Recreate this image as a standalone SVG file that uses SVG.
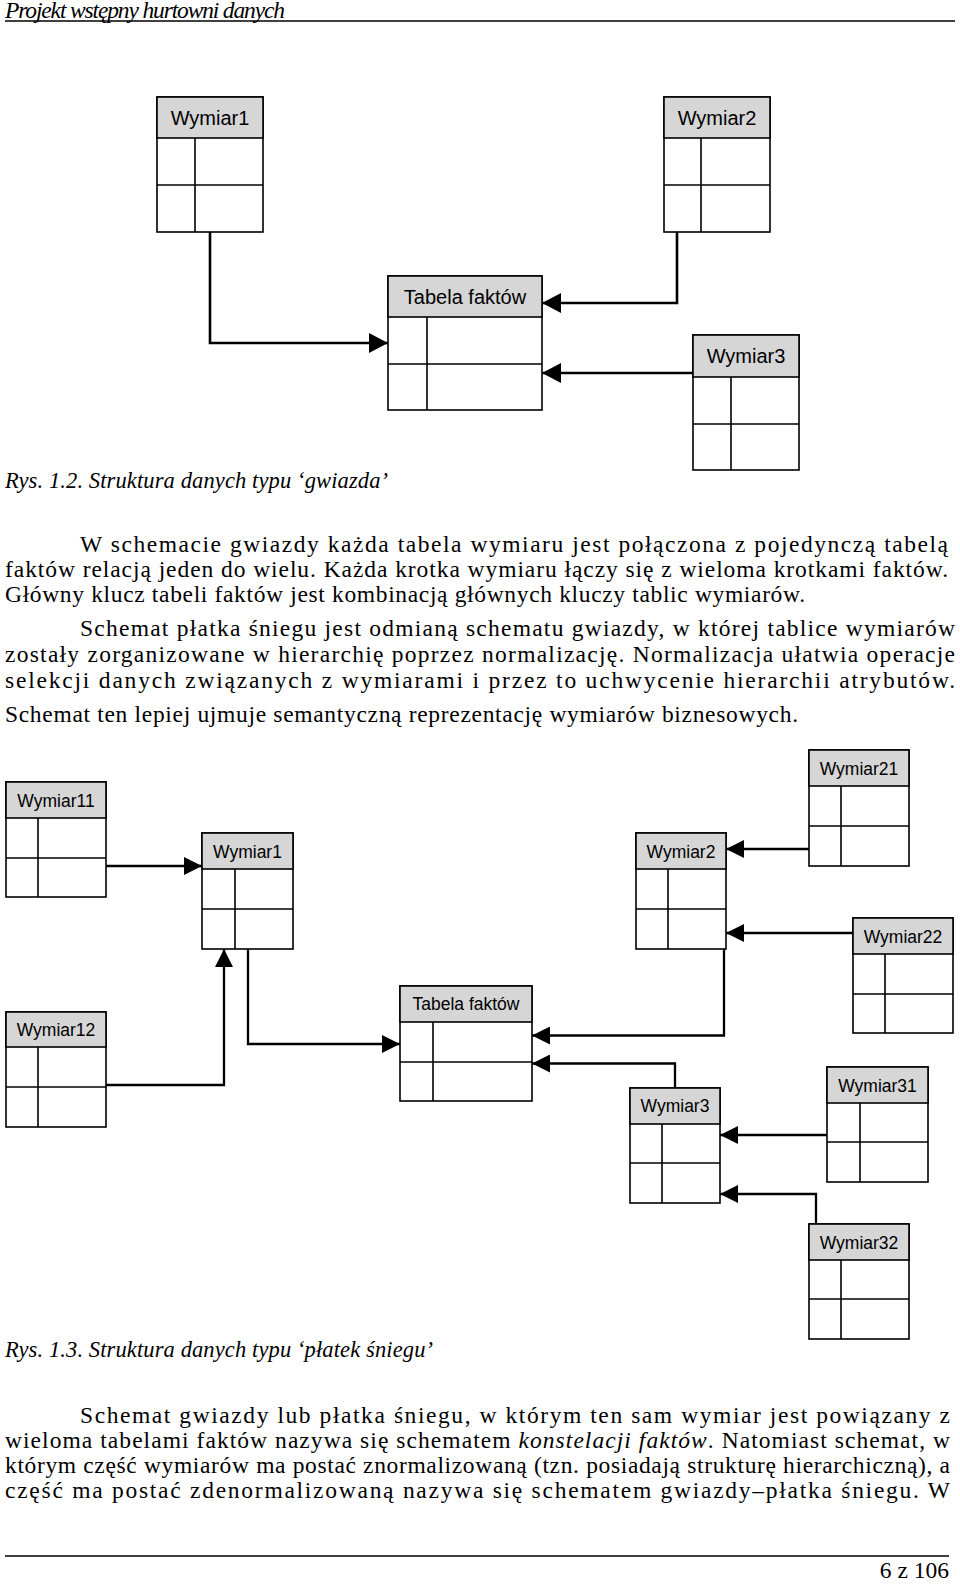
<svg xmlns="http://www.w3.org/2000/svg" width="960" height="1585" viewBox="0 0 960 1585">
<style>
.box{fill:#fff;stroke:#000;stroke-width:1.6}
.hdr{fill:#d6d6d6;stroke:#000;stroke-width:1.6}
.grid{stroke:#000;stroke-width:1.6}
.t1{font-family:"Liberation Sans",Arial,sans-serif;font-size:20px;text-anchor:middle;fill:#000}
.t2{font-family:"Liberation Sans",Arial,sans-serif;font-size:17.5px;text-anchor:middle;fill:#000}
.c1{fill:none;stroke:#000;stroke-width:2.6}
.c2{fill:none;stroke:#000;stroke-width:2.3}
.body{font-family:"Liberation Serif","Times New Roman",serif;font-size:23.5px;fill:#000}
.cap{font-family:"Liberation Serif","Times New Roman",serif;font-size:22.5px;font-style:italic;fill:#000}
.it{font-style:italic}
</style>
<defs>
<marker id="a1" markerUnits="userSpaceOnUse" markerWidth="19" markerHeight="20" refX="19" refY="10" orient="auto"><path d="M0,0 L19,10 L0,20 z" fill="#000"/></marker>
<marker id="a2" markerUnits="userSpaceOnUse" markerWidth="18" markerHeight="18" refX="18" refY="9" orient="auto"><path d="M0,0 L18,9 L0,18 z" fill="#000"/></marker>
</defs>
<rect x="0" y="0" width="960" height="1585" fill="#fff"/>

<!-- page header -->
<text class="body it" x="5" y="18" font-size="16.5" textLength="280" lengthAdjust="spacing">Projekt wstępny hurtowni danych</text>
<line x1="5" y1="21" x2="955" y2="21" stroke="#000" stroke-width="1.3"/>

<!-- Figure 1.2 nodes -->
<g id="f1-wymiar1">
<rect class="box" x="157" y="97" width="106" height="135"/>
<rect class="hdr" x="157" y="97" width="106" height="41"/>
<line class="grid" x1="157" y1="185" x2="263" y2="185"/>
<line class="grid" x1="195" y1="138" x2="195" y2="232"/>
<text class="t1" x="210" y="124.5">Wymiar1</text>
</g>
<g id="f1-wymiar2">
<rect class="box" x="664" y="97" width="106" height="135"/>
<rect class="hdr" x="664" y="97" width="106" height="41"/>
<line class="grid" x1="664" y1="185" x2="770" y2="185"/>
<line class="grid" x1="701" y1="138" x2="701" y2="232"/>
<text class="t1" x="717" y="124.5">Wymiar2</text>
</g>
<g id="f1-tabela">
<rect class="box" x="388" y="276" width="154" height="134"/>
<rect class="hdr" x="388" y="276" width="154" height="41"/>
<line class="grid" x1="388" y1="364" x2="542" y2="364"/>
<line class="grid" x1="427" y1="317" x2="427" y2="410"/>
<text class="t1" x="465" y="303.5">Tabela faktów</text>
</g>
<g id="f1-wymiar3">
<rect class="box" x="693" y="335" width="106" height="135"/>
<rect class="hdr" x="693" y="335" width="106" height="42"/>
<line class="grid" x1="693" y1="424" x2="799" y2="424"/>
<line class="grid" x1="731" y1="377" x2="731" y2="470"/>
<text class="t1" x="746" y="363">Wymiar3</text>
</g>

<!-- Figure 1.2 connectors -->
<g id="f1-connectors">
<path class="c1" d="M210,232 V343 H388" marker-end="url(#a1)"/>
<path class="c1" d="M677,232 V303 H542" marker-end="url(#a1)"/>
<path class="c1" d="M693,373 H542" marker-end="url(#a1)"/>
</g>

<text class="cap" x="5" y="488" textLength="383" lengthAdjust="spacing">Rys. 1.2. Struktura danych typu ‘gwiazda’</text>

<text class="body" x="80" y="552" textLength="868" lengthAdjust="spacing">W schemacie gwiazdy każda tabela wymiaru jest połączona z pojedynczą tabelą</text>
<text class="body" x="5" y="577" textLength="943" lengthAdjust="spacing">faktów relacją jeden do wielu. Każda krotka wymiaru łączy się z wieloma krotkami faktów.</text>
<text class="body" x="5" y="602" textLength="800" lengthAdjust="spacing">Główny klucz tabeli faktów jest kombinacją głównych kluczy tablic wymiarów.</text>
<text class="body" x="80" y="636" textLength="875" lengthAdjust="spacing">Schemat płatka śniegu jest odmianą schematu gwiazdy, w której tablice wymiarów</text>
<text class="body" x="5" y="662" textLength="950" lengthAdjust="spacing">zostały zorganizowane w hierarchię poprzez normalizację. Normalizacja ułatwia operacje</text>
<text class="body" x="5" y="688" textLength="950" lengthAdjust="spacing">selekcji danych związanych z wymiarami i przez to uchwycenie hierarchii atrybutów.</text>
<text class="body" x="5" y="722" textLength="793" lengthAdjust="spacing">Schemat ten lepiej ujmuje semantyczną reprezentację wymiarów biznesowych.</text>

<!-- Figure 1.3 nodes -->
<g id="f2-wymiar11">
<rect class="box" x="6" y="782" width="100" height="115"/>
<rect class="hdr" x="6" y="782" width="100" height="36"/>
<line class="grid" x1="6" y1="858" x2="106" y2="858"/>
<line class="grid" x1="38" y1="818" x2="38" y2="897"/>
<text class="t2" x="56" y="806.5">Wymiar11</text>
</g>
<g id="f2-wymiar12">
<rect class="box" x="6" y="1012" width="100" height="115"/>
<rect class="hdr" x="6" y="1012" width="100" height="35"/>
<line class="grid" x1="6" y1="1087" x2="106" y2="1087"/>
<line class="grid" x1="38" y1="1047" x2="38" y2="1127"/>
<text class="t2" x="56" y="1036">Wymiar12</text>
</g>
<g id="f2-wymiar1">
<rect class="box" x="202" y="833" width="91" height="116"/>
<rect class="hdr" x="202" y="833" width="91" height="36"/>
<line class="grid" x1="202" y1="909" x2="293" y2="909"/>
<line class="grid" x1="235" y1="869" x2="235" y2="949"/>
<text class="t2" x="247.5" y="857.5">Wymiar1</text>
</g>
<g id="f2-wymiar2">
<rect class="box" x="636" y="833" width="90" height="116"/>
<rect class="hdr" x="636" y="833" width="90" height="36"/>
<line class="grid" x1="636" y1="909" x2="726" y2="909"/>
<line class="grid" x1="668" y1="869" x2="668" y2="949"/>
<text class="t2" x="681" y="857.5">Wymiar2</text>
</g>
<g id="f2-tabela">
<rect class="box" x="400" y="986" width="132" height="115"/>
<rect class="hdr" x="400" y="986" width="132" height="36"/>
<line class="grid" x1="400" y1="1062" x2="532" y2="1062"/>
<line class="grid" x1="433" y1="1022" x2="433" y2="1101"/>
<text class="t2" x="466" y="1010">Tabela faktów</text>
</g>
<g id="f2-wymiar21">
<rect class="box" x="809" y="750" width="100" height="116"/>
<rect class="hdr" x="809" y="750" width="100" height="36"/>
<line class="grid" x1="809" y1="826" x2="909" y2="826"/>
<line class="grid" x1="841" y1="786" x2="841" y2="866"/>
<text class="t2" x="859" y="774.5">Wymiar21</text>
</g>
<g id="f2-wymiar22">
<rect class="box" x="853" y="918" width="100" height="115"/>
<rect class="hdr" x="853" y="918" width="100" height="36"/>
<line class="grid" x1="853" y1="994" x2="953" y2="994"/>
<line class="grid" x1="885" y1="954" x2="885" y2="1033"/>
<text class="t2" x="903" y="942.5">Wymiar22</text>
</g>
<g id="f2-wymiar3">
<rect class="box" x="630" y="1088" width="90" height="115"/>
<rect class="hdr" x="630" y="1088" width="90" height="36"/>
<line class="grid" x1="630" y1="1163" x2="720" y2="1163"/>
<line class="grid" x1="662" y1="1124" x2="662" y2="1203"/>
<text class="t2" x="675" y="1112">Wymiar3</text>
</g>
<g id="f2-wymiar31">
<rect class="box" x="827" y="1067" width="101" height="115"/>
<rect class="hdr" x="827" y="1067" width="101" height="36"/>
<line class="grid" x1="827" y1="1142" x2="928" y2="1142"/>
<line class="grid" x1="860" y1="1103" x2="860" y2="1182"/>
<text class="t2" x="877.5" y="1091.5">Wymiar31</text>
</g>
<g id="f2-wymiar32">
<rect class="box" x="809" y="1224" width="100" height="115"/>
<rect class="hdr" x="809" y="1224" width="100" height="36"/>
<line class="grid" x1="809" y1="1299" x2="909" y2="1299"/>
<line class="grid" x1="841" y1="1260" x2="841" y2="1339"/>
<text class="t2" x="859" y="1248.5">Wymiar32</text>
</g>

<!-- Figure 1.3 connectors -->
<g id="f2-connectors">
<path class="c2" d="M106,866 H202" marker-end="url(#a2)"/>
<path class="c2" d="M106,1085 H224 V949" marker-end="url(#a2)"/>
<path class="c2" d="M248,949 V1044 H400" marker-end="url(#a2)"/>
<path class="c2" d="M809,849 H726" marker-end="url(#a2)"/>
<path class="c2" d="M853,933 H726" marker-end="url(#a2)"/>
<path class="c2" d="M724,949 V1035.5 H532" marker-end="url(#a2)"/>
<path class="c2" d="M675,1088 V1063.5 H532" marker-end="url(#a2)"/>
<path class="c2" d="M827,1135 H720" marker-end="url(#a2)"/>
<path class="c2" d="M816,1224 V1194 H720" marker-end="url(#a2)"/>
</g>

<text class="cap" x="5" y="1357" textLength="428" lengthAdjust="spacing">Rys. 1.3. Struktura danych typu ‘płatek śniegu’</text>

<text class="body" x="80" y="1423" textLength="870" lengthAdjust="spacing">Schemat gwiazdy lub płatka śniegu, w którym ten sam wymiar jest powiązany z</text>
<text class="body" x="5" y="1448" textLength="945" lengthAdjust="spacing">wieloma tabelami faktów nazywa się schematem <tspan class="it">konstelacji faktów</tspan>. Natomiast schemat, w</text>
<text class="body" x="5" y="1473" textLength="945" lengthAdjust="spacing">którym część wymiarów ma postać znormalizowaną (tzn. posiadają strukturę hierarchiczną), a</text>
<text class="body" x="5" y="1498" textLength="945" lengthAdjust="spacing">część ma postać zdenormalizowaną nazywa się schematem gwiazdy–płatka śniegu. W</text>

<!-- page footer -->
<line x1="5" y1="1556" x2="949" y2="1556" stroke="#000" stroke-width="1.3"/>
<text class="body" x="949" y="1578" text-anchor="end" font-size="22">6 z 106</text>
</svg>
